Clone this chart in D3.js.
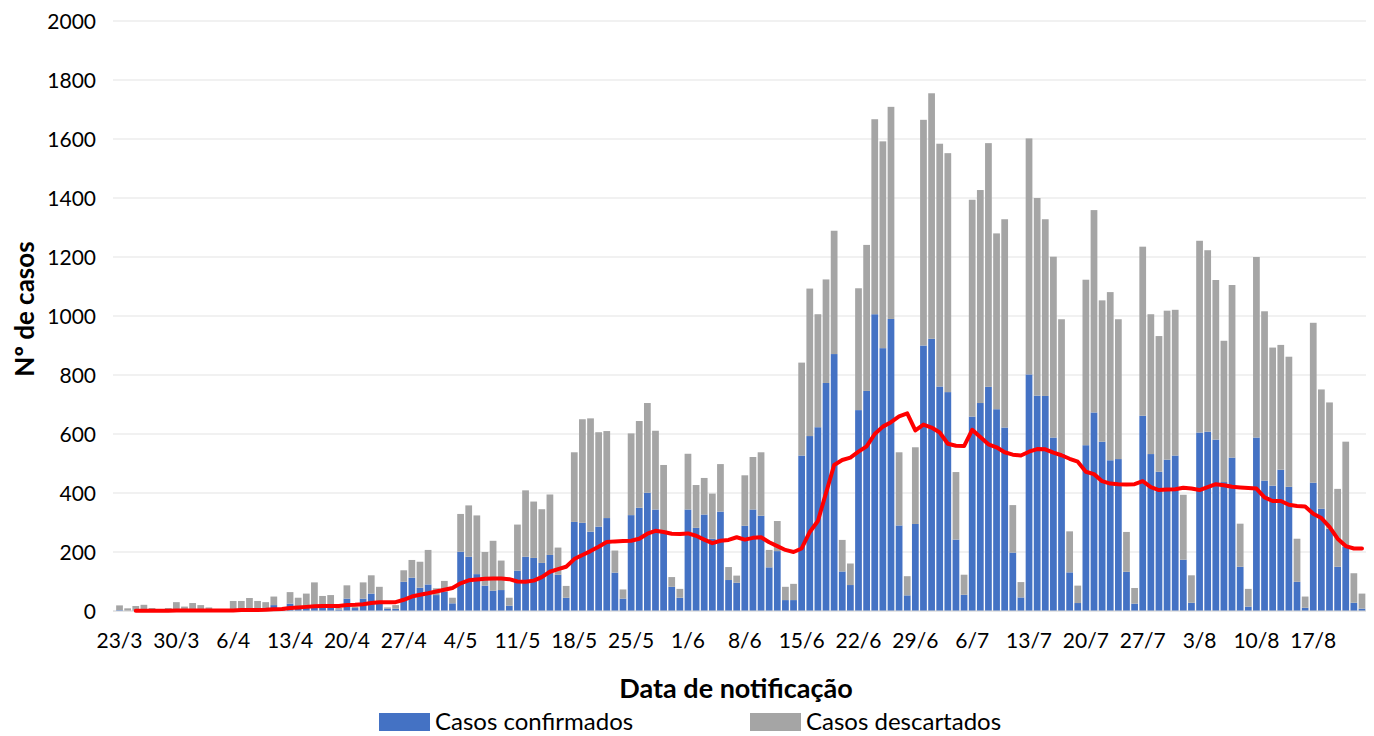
<!DOCTYPE html>
<html>
<head>
<meta charset="utf-8">
<script src="https://cdn.jsdelivr.net/npm/d3@7"></script>
<style>
  body { margin: 0; background: #fff; }
  svg { display: block; font-family: Lato, "Open Sans", sans-serif; }
</style>
</head>
<body>
<div id="chart"></div>
<script>
// daily values, 23/3 -> 23/8
const confirmados = [3,0,2,2,1,0,1,3,2,3,2,2,1,1,5,5,6,6,8,20,5,25,12,15,20,20,20,5,42,10,
  42,59,32,8,8,99,113,79,90,54,66,26,201,184,125,86,69,71,18,137,184,180,163,190,123,45,
  302,299,269,286,315,130,42,325,350,401,344,265,82,45,344,282,327,245,337,105,96,289,344,
  323,148,203,37,37,527,593,623,773,871,134,88,681,746,1006,891,990,290,53,295,900,923,761,
  742,242,55,659,705,760,684,622,198,46,802,730,729,588,534,131,27,562,673,574,511,515,133,
  25,662,532,472,513,527,174,28,605,608,581,437,520,150,15,588,442,425,479,421,99,11,435,
  347,279,150,218,28,8];
const descartados = [16,9,15,19,9,3,9,27,13,24,18,10,3,3,29,29,38,28,22,29,5,39,33,44,77,
  31,34,5,45,5,55,62,50,4,12,39,60,88,117,23,36,19,128,174,199,114,169,100,27,156,225,191,
  182,205,92,40,236,351,384,320,295,75,31,277,294,304,267,230,33,30,189,145,124,153,161,44,
  24,171,178,215,59,102,45,55,315,500,383,351,418,107,73,413,495,661,701,719,248,65,260,765,
  832,823,810,229,68,735,722,826,596,706,161,52,800,670,599,613,455,139,59,561,686,479,570,
  474,135,53,573,474,460,505,494,220,93,650,615,541,479,585,146,60,612,574,468,423,441,146,
  38,542,404,428,264,356,100,51];
// red line (media movel de confirmados)
const media = [null,null,1,1,1,1,1,2,2,2,2,2,2,2,2,3,3,3,4,6,7,10,12,14,16,17,17,17,20,21,
  23,27,30,30,30,38,49,55,60,66,72,78,94,104,107,109,110,110,108,100,99,103,115,133,142,150,
  176,190,203,218,234,236,237,238,245,262,272,268,262,261,263,255,242,230,238,241,250,242,
  248,250,233,220,207,200,212,268,305,400,495,512,520,540,558,600,625,640,660,670,612,632,
  622,605,567,560,559,614,590,565,555,538,530,527,540,549,548,537,528,516,506,472,464,440,
  432,430,429,430,440,420,410,412,413,418,415,410,420,430,426,421,419,417,415,385,373,373,
  360,356,354,330,315,285,245,220,212,212];
const tickLabels = ["23/3","30/3","6/4","13/4","20/4","27/4","4/5","11/5","18/5","25/5","1/6",
  "8/6","15/6","22/6","29/6","6/7","13/7","20/7","27/7","3/8","10/8","17/8"];
const yTicks = [0,200,400,600,800,1000,1200,1400,1600,1800,2000];
const series = ["Casos confirmados", "Casos descartados"];
const colors = ["#4472C4", "#A5A5A5"];

const W = 1374, H = 736;
const svg = d3.select("#chart").append("svg").attr("width", W).attr("height", H);

const idx = d3.range(confirmados.length);
const x = d3.scaleBand().domain(idx).range([115.5, 1366]).paddingInner(0.17).paddingOuter(0.08);
const y = d3.scaleLinear().domain([0, 2000]).range([611, 21]);

// gridlines
svg.append("g").selectAll("line").data(yTicks).join("line")
  .attr("x1", 113).attr("x2", 1366)
  .attr("y1", d => y(d)).attr("y2", d => y(d))
  .attr("stroke", "#e3e3e3").attr("stroke-width", 1);

// y labels
svg.append("g").selectAll("text").data(yTicks).join("text")
  .attr("x", 96).attr("y", d => y(d)).attr("dy", "0.36em")
  .attr("text-anchor", "end").attr("font-size", 21).attr("fill", "#000")
  .text(d => d);

// stacked bars
const rows = idx.map(i => ({ i, c: confirmados[i], d: descartados[i] }));
const stack = d3.stack().keys(["c", "d"])(rows);
svg.append("g").selectAll("g").data(stack).join("g")
  .attr("fill", (s, k) => colors[k])
  .selectAll("rect").data(s => s).join("rect")
  .attr("x", d => x(d.data.i))
  .attr("width", x.bandwidth())
  .attr("y", d => y(d[1]))
  .attr("height", d => y(d[0]) - y(d[1]));

// x axis
const tickIdx = tickLabels.map((t, k) => k * 7);
const xAxis = svg.append("g").attr("transform", "translate(0,611)")
  .call(d3.axisBottom(x).tickValues(tickIdx).tickSize(0).tickPadding(0)
    .tickFormat((d, k) => tickLabels[k]));
xAxis.select(".domain").attr("stroke", "#d9d9d9").attr("d", "M113,0H1366");
xAxis.selectAll("text").attr("font-size", 21).attr("fill", "#000")
  .attr("font-family", "Lato, sans-serif").attr("y", 22);

// moving average line
const line = d3.line()
  .defined(d => d != null)
  .x((d, i) => x(i) + x.bandwidth() / 2)
  .y(d => y(d));
svg.append("path").datum(media)
  .attr("fill", "none").attr("stroke", "#FF0000").attr("stroke-width", 4)
  .attr("stroke-linejoin", "round").attr("stroke-linecap", "round")
  .attr("d", line);

// titles
svg.append("text").attr("x", 736).attr("y", 698).attr("text-anchor", "middle")
  .attr("font-size", 27).attr("font-weight", "bold").text("Data de notificação");
svg.append("text").attr("transform", "translate(25,309) rotate(-90)")
  .attr("text-anchor", "middle").attr("dy", "0.36em")
  .attr("font-size", 26).attr("font-weight", "bold")
  .text("Nº de casos");

// legend
const legendX = [379, 750];
const lg = svg.append("g").selectAll("g").data(series).join("g")
  .attr("transform", (d, k) => `translate(${legendX[k]},713)`);
lg.append("rect").attr("width", 51).attr("height", 18).attr("fill", (d, k) => colors[k]);
lg.append("text").attr("x", 56).attr("y", 17)
  .attr("font-size", 24).text(d => d);
</script>
</body>
</html>
